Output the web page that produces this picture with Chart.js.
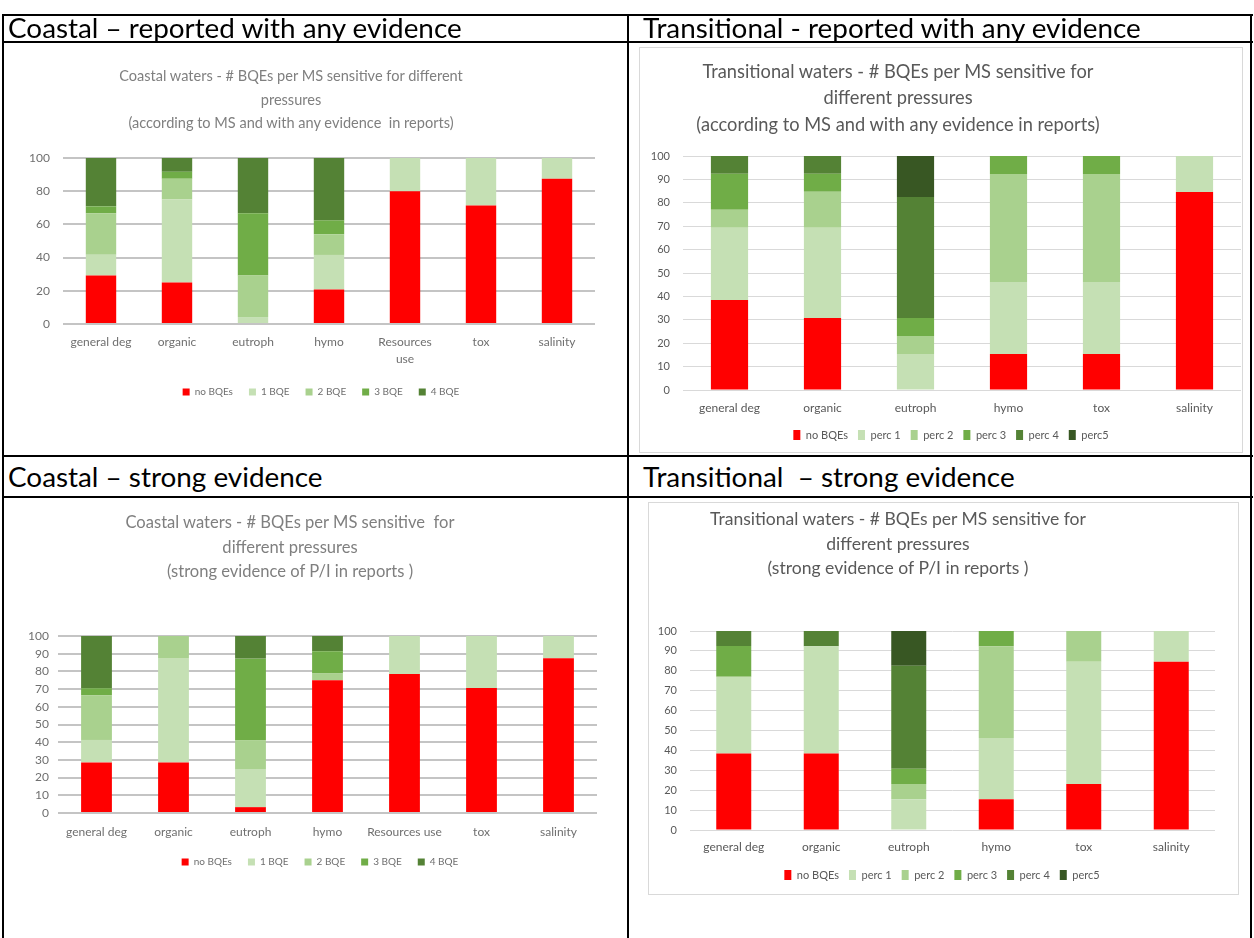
<!DOCTYPE html>
<html><head><meta charset="utf-8">
<script src="https://cdn.jsdelivr.net/npm/chart.js@4.4.1/dist/chart.umd.min.js"></script>
<style>
html,body{margin:0;padding:0;background:#fff;width:1254px;height:938px;overflow:hidden;position:relative;font-family:Lato,sans-serif}
.ln{position:absolute;background:#000;z-index:5}
.frame{position:absolute;border:1px solid #d9d9d9;box-sizing:border-box}
canvas{position:absolute}
</style></head><body>
<div class="frame" style="left:639px;top:47px;width:604px;height:406px"></div>
<div class="frame" style="left:648px;top:502px;width:591px;height:393px"></div>
<canvas id="c1"></canvas><canvas id="c2"></canvas><canvas id="c3"></canvas><canvas id="c4"></canvas>
<div class="ln" style="left:2px;top:14px;width:1251px;height:2px"></div>
<div class="ln" style="left:2px;top:41px;width:1251px;height:2px"></div>
<div class="ln" style="left:2px;top:455px;width:1251px;height:2px"></div>
<div class="ln" style="left:2px;top:496px;width:1251px;height:2px"></div>
<div class="ln" style="left:2px;top:14px;width:2px;height:924px"></div>
<div class="ln" style="left:627px;top:14px;width:2px;height:924px"></div>
<div class="ln" style="left:1250px;top:14px;width:2px;height:924px"></div>
<script>
// ---------- data ----------
const coastalCategoriesAny = ['general deg','organic','eutroph','hymo',['Resources','use'],'tox','salinity'];
const coastalCategoriesStrong = ['general deg','organic','eutroph','hymo','Resources use','tox','salinity'];
const transitionalCategories = ['general deg','organic','eutroph','hymo','tox','salinity'];
const coastalSeriesNames = ['no BQEs','1 BQE','2 BQE','3 BQE','4 BQE'];
const transitionalSeriesNames = ['no BQEs','perc 1','perc 2','perc 3','perc 4','perc5'];

// Coastal - reported with any evidence
const coastalAnyNoBQE  = [29.2, 25.0, 0.0, 20.8, 80.0, 71.4, 87.5];
const coastalAny1BQE   = [12.5, 50.0, 4.2, 20.8, 20.0, 28.6, 12.5];
const coastalAny2BQE   = [25.0, 12.5, 25.0, 12.5, 0, 0, 0];
const coastalAny3BQE   = [4.2, 4.2, 37.5, 8.3, 0, 0, 0];
const coastalAny4BQE   = [29.1, 8.3, 33.3, 37.6, 0, 0, 0];

// Transitional - reported with any evidence
const transAnyNoBQE = [38.5, 30.8, 0.0, 15.4, 15.4, 84.6];
const transAnyPerc1 = [30.8, 38.5, 15.4, 30.8, 30.8, 15.4];
const transAnyPerc2 = [7.7, 15.4, 7.7, 46.1, 46.1, 0];
const transAnyPerc3 = [15.4, 7.7, 7.7, 7.7, 7.7, 0];
const transAnyPerc4 = [7.6, 7.6, 51.7, 0, 0, 0];
const transAnyPerc5 = [0, 0, 17.5, 0, 0, 0];

// Coastal - strong evidence
const coastalStrongNoBQE = [28.6, 28.6, 3.3, 75.0, 78.6, 70.6, 87.5];
const coastalStrong1BQE  = [12.7, 58.6, 21.5, 0, 21.4, 29.4, 12.5];
const coastalStrong2BQE  = [25.2, 12.8, 16.4, 3.8, 0, 0, 0];
const coastalStrong3BQE  = [4.0, 0, 46.0, 12.6, 0, 0, 0];
const coastalStrong4BQE  = [29.5, 0, 12.8, 8.6, 0, 0, 0];

// Transitional - strong evidence
const transStrongNoBQE = [38.5, 38.5, 0.0, 15.4, 23.1, 84.6];
const transStrongPerc1 = [38.5, 53.8, 15.4, 30.8, 61.5, 15.4];
const transStrongPerc2 = [0, 0, 7.7, 46.1, 15.4, 0];
const transStrongPerc3 = [15.4, 0, 7.7, 7.7, 0, 0];
const transStrongPerc4 = [7.6, 7.7, 51.7, 0, 0, 0];
const transStrongPerc5 = [0, 0, 17.5, 0, 0, 0];

const yStepCoastalAny = 20;
const yStepOther = 10;

const headerTexts = ['Coastal \u2013 reported with any evidence','Transitional - reported with any evidence','Coastal \u2013 strong evidence','Transitional  \u2013 strong evidence'];
const title1 = ['Coastal waters - # BQEs per MS sensitive for different','pressures','(according to MS and with any evidence  in reports)'];
const title2 = ['Transitional waters - # BQEs per MS sensitive for','different pressures','(according to MS and with any evidence in reports)'];
const title3 = ['Coastal waters - # BQEs per MS sensitive  for','different pressures','(strong evidence of P/I in reports )'];
const title4 = ['Transitional waters - # BQEs per MS sensitive for','different pressures','(strong evidence of P/I in reports )'];

// ---------- styling ----------
const colors = ['#ff0000','#c5e0b4','#a9d18e','#70ad47','#548235','#385723'];
const FAM = 'Lato';
Chart.defaults.font.family = FAM;

const mctx = document.createElement('canvas').getContext('2d');
function textW(t){ mctx.font = '100px ' + FAM; return mctx.measureText(t).width; }
function addText(text, left, cx, cy, size, color){
  const d = document.createElement('div');
  d.textContent = text;
  const lh = Math.round(size*1.3);
  d.style.cssText = 'position:absolute;white-space:pre;font-family:'+FAM+';font-size:'+size+'px;line-height:'+lh+'px;color:'+color+';top:'+(cy-lh/2)+'px;';
  if (cx !== null){ d.style.left=(cx-400)+'px'; d.style.width='800px'; d.style.textAlign='center'; }
  else d.style.left = left+'px';
  document.body.appendChild(d);
}
// headers
const hSize = 100*455/textW(headerTexts[0]);
addText(headerTexts[0], 8, null, 28, hSize, '#000');
addText(headerTexts[1], 643, null, 28, hSize, '#000');
addText(headerTexts[2], 8, null, 477, hSize, '#000');
addText(headerTexts[3], 643, null, 477, hSize, '#000');
// chart titles
function addTitle(lines, cx, ys, w1, color){
  const s = 100*w1/textW(lines[0]);
  lines.forEach((t,i)=>addText(t, 0, cx, ys[i], s, color));
}
addTitle(title1, 291, [75,99,122], 345, '#7f7f7f');
addTitle(title2, 898, [71,97,124], 392, '#595959');
addTitle(title3, 290, [522,547,571], 330, '#7f7f7f');
addTitle(title4, 898, [518,543,567], 377, '#595959');

function buildChart(id, g, categories, names, series, yStep, st){
  const h = Math.max(st.legendFont, st.boxH);
  const padTop = g.areaT - g.T;
  const legC = g.legendY - g.T;
  const padBottom = g.H - (legC + h/2 + 10);
  const legTop = legC - st.legendPad - h/2;
  const xAxisH = legTop - (g.areaB - g.T);
  const lhMult = 1.4;
  const xPad = (g.labelY - g.areaB) - st.tickFont*lhMult/2;
  const yAxisW = g.areaL - g.L;
  const rightW = g.L + g.W - g.areaR;
  const cv = document.getElementById(id);
  cv.style.left = g.L+'px'; cv.style.top = g.T+'px';
  cv.style.width = g.W+'px'; cv.style.height = g.H+'px';
  cv.width = g.W; cv.height = g.H;
  new Chart(cv, {
    type:'bar',
    data:{labels:categories, datasets:names.map((n,i)=>({label:n, data:series[i], backgroundColor:colors[i], borderWidth:0, barPercentage:0.4, categoryPercentage:1}))},
    options:{
      responsive:false, animation:false, devicePixelRatio:1,
      layout:{padding:{top:padTop, bottom:padBottom, left:0, right:0}},
      plugins:{
        title:{display:false}, tooltip:{enabled:false},
        legend:{position:'bottom', labels:{font:{family:FAM,size:st.legendFont}, color:st.legendColor, boxWidth:st.boxW, boxHeight:st.boxH, padding:st.legendPad}}
      },
      scales:{
        x:{stacked:true, grid:{display:false, drawTicks:false}, border:{display:false},
           ticks:{font:{family:FAM,size:st.tickFont,lineHeight:lhMult}, color:st.tickColor, padding:xPad, maxRotation:0, minRotation:0, autoSkip:false},
           afterFit(s){ s.height = xAxisH; }},
        y:{stacked:true, min:0, max:100,
           ticks:{stepSize:yStep, font:{family:FAM,size:st.yFont}, color:st.tickColor, padding:g.areaL - g.yLabelRight},
           grid:{color:st.gridColor, lineWidth:st.gridWidth, drawTicks:false}, border:{display:false},
           afterFit(s){ s.width = yAxisW; }},
        yr:{position:'right', display:true, grid:{display:false, drawTicks:false}, border:{display:false},
            ticks:{display:false}, afterFit(s){ s.width = rightW; }}
      }
    }
  });
}

const coastalStyle = {tickFont:12, yFont:12, tickColor:'#6f6f6f', legendFont:10, legendColor:'#6f6f6f', legendPad:16, boxW:7, boxH:7, gridColor:'#c4c4c4', gridWidth:2};
const transStyle = {tickFont:12, yFont:11, tickColor:'#595959', legendFont:11, legendColor:'#595959', legendPad:10, boxW:7, boxH:10, gridColor:'#d9d9d9', gridWidth:1};

buildChart('c1', {L:5,T:44,W:632,H:410, areaL:63, areaR:595, areaT:158, areaB:324, labelY:342, legendY:392, yLabelRight:50},
  coastalCategoriesAny, coastalSeriesNames,
  [coastalAnyNoBQE, coastalAny1BQE, coastalAny2BQE, coastalAny3BQE, coastalAny4BQE], yStepCoastalAny, coastalStyle);

buildChart('c2', {L:651,T:48,W:600,H:404, areaL:683, areaR:1241, areaT:156, areaB:390, labelY:408, legendY:435, yLabelRight:670},
  transitionalCategories, transitionalSeriesNames,
  [transAnyNoBQE, transAnyPerc1, transAnyPerc2, transAnyPerc3, transAnyPerc4, transAnyPerc5], yStepOther, transStyle);

buildChart('c3', {L:5,T:500,W:630,H:436, areaL:58, areaR:597, areaT:636, areaB:813, labelY:832, legendY:862, yLabelRight:49},
  coastalCategoriesStrong, coastalSeriesNames,
  [coastalStrongNoBQE, coastalStrong1BQE, coastalStrong2BQE, coastalStrong3BQE, coastalStrong4BQE], yStepOther, coastalStyle);

buildChart('c4', {L:655,T:505,W:574,H:388, areaL:690, areaR:1215, areaT:631, areaB:830, labelY:847, legendY:875, yLabelRight:677},
  transitionalCategories, transitionalSeriesNames,
  [transStrongNoBQE, transStrongPerc1, transStrongPerc2, transStrongPerc3, transStrongPerc4, transStrongPerc5], yStepOther, transStyle);
</script>
</body></html>
